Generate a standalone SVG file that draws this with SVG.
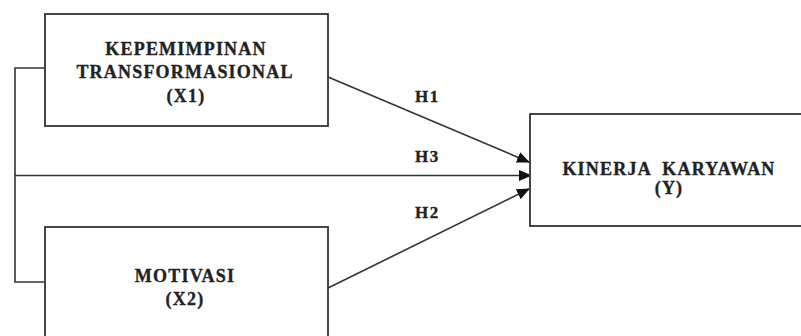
<svg xmlns="http://www.w3.org/2000/svg" width="801" height="336" viewBox="0 0 801 336">
<defs>
<style>
.box{fill:#fff;stroke:#333;stroke-width:1.8}
.ln{fill:none;stroke:#333;stroke-width:1.6}
.t{font-family:"Liberation Serif","Times New Roman",serif;font-weight:bold;font-size:18px;fill:#222;stroke:#222;stroke-width:0.35;text-anchor:middle;letter-spacing:1.2px}
.h{font-family:"Liberation Serif","Times New Roman",serif;font-weight:bold;font-size:17px;fill:#222;stroke:#222;stroke-width:0.35;letter-spacing:1.5px}
</style>
<marker id="arr" viewBox="0 0 13 11" refX="12" refY="5.5" markerWidth="13" markerHeight="11" markerUnits="userSpaceOnUse" orient="auto">
<path d="M0,0 L13,5.5 L0,11 z" fill="#111"/>
</marker>
</defs>
<rect width="801" height="336" fill="#fff"/>
<g id="connectors">
<polyline class="ln" points="45,68 15,68 15,282 45,282"/>
<line class="ln" x1="328" y1="77" x2="529" y2="162" marker-end="url(#arr)"/>
<line class="ln" x1="15" y1="175.5" x2="531" y2="175.5" marker-end="url(#arr)"/>
<line class="ln" x1="328" y1="288" x2="529" y2="189" marker-end="url(#arr)"/>
<text class="h" x="415" y="102">H1</text>
<text class="h" x="415" y="162">H3</text>
<text class="h" x="415" y="218">H2</text>
</g>
<g id="node-x1">
<rect class="box" x="45" y="14" width="283" height="112"/>
<text class="t" x="186" y="55">KEPEMIMPINAN</text>
<text class="t" x="185" y="78">TRANSFORMASIONAL</text>
<text class="t" x="186" y="102">(X1)</text>
</g>
<g id="node-x2">
<rect class="box" x="45" y="227" width="283" height="130"/>
<text class="t" x="185" y="282">MOTIVASI</text>
<text class="t" x="185" y="305">(X2)</text>
</g>
<g id="node-y">
<rect class="box" x="530" y="114" width="300" height="112"/>
<text class="t" x="669" y="175" xml:space="preserve">KINERJA  KARYAWAN</text>
<text class="t" x="669" y="194">(Y)</text>
</g>
</svg>
